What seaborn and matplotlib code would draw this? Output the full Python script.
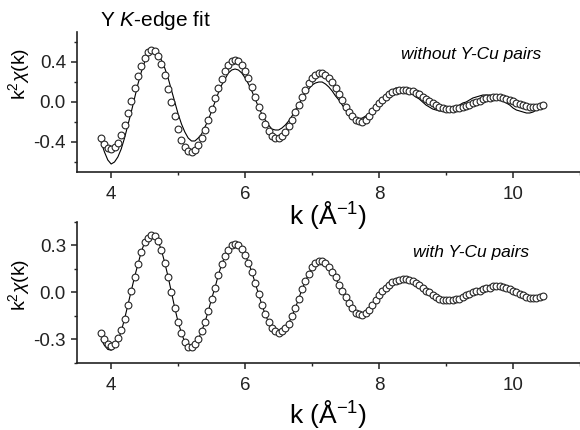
import numpy as np
import matplotlib
matplotlib.use("Agg")
import matplotlib.pyplot as plt
from matplotlib.ticker import MultipleLocator
import seaborn as sns

# ---- data ----
k = np.round(np.arange(3.85, 10.451, 0.05), 2)

exp_top = [
    -0.36, -0.42, -0.46, -0.47, -0.45, -0.41, -0.33, -0.23, -0.11, 0.01,
    0.14, 0.26, 0.36, 0.44, 0.50, 0.52, 0.51, 0.46, 0.38, 0.27,
    0.13, 0.00, -0.14, -0.27, -0.38, -0.45, -0.49, -0.50, -0.48, -0.43,
    -0.36, -0.28, -0.18, -0.07, 0.04, 0.14, 0.23, 0.31, 0.37, 0.41,
    0.42, 0.41, 0.37, 0.31, 0.24, 0.15, 0.05, -0.05, -0.14, -0.22,
    -0.29, -0.34, -0.36, -0.36, -0.34, -0.30, -0.24, -0.18, -0.10, -0.03,
    0.05, 0.12, 0.19, 0.24, 0.27, 0.29, 0.29, 0.27, 0.24, 0.20,
    0.14, 0.08, 0.02, -0.05, -0.10, -0.14, -0.18, -0.19, -0.20, -0.18,
    -0.14, -0.09, -0.05, -0.01, 0.02, 0.05, 0.08, 0.10, 0.11, 0.12,
    0.12, 0.12, 0.11, 0.11, 0.09, 0.08, 0.05, 0.03, 0.01, -0.01,
    -0.03, -0.05, -0.06, -0.07, -0.07, -0.07, -0.06, -0.06, -0.05, -0.04,
    -0.03, -0.01, 0.00, 0.01, 0.03, 0.04, 0.04, 0.05, 0.05, 0.05,
    0.04, 0.03, 0.02, 0.01, -0.01, -0.02, -0.03, -0.04, -0.05, -0.05,
    -0.05, -0.04, -0.03,
]

fit_top = [
    -0.40, -0.50, -0.58, -0.62, -0.60, -0.55, -0.47, -0.36, -0.23, -0.10,
    0.04, 0.18, 0.30, 0.40, 0.46, 0.50, 0.51, 0.48, 0.42, 0.34,
    0.24, 0.12, 0.00, -0.12, -0.22, -0.30, -0.36, -0.39, -0.39, -0.36,
    -0.32, -0.25, -0.18, -0.09, 0.00, 0.09, 0.17, 0.23, 0.29, 0.32,
    0.33, 0.32, 0.29, 0.24, 0.18, 0.11, 0.03, -0.05, -0.12, -0.18,
    -0.23, -0.27, -0.28, -0.28, -0.26, -0.23, -0.19, -0.14, -0.08, -0.02,
    0.03, 0.09, 0.13, 0.17, 0.19, 0.20, 0.20, 0.18, 0.15, 0.11,
    0.06, 0.02, -0.03, -0.08, -0.12, -0.15, -0.17, -0.17, -0.16, -0.14,
    -0.12, -0.08, -0.05, -0.01, 0.03, 0.07, 0.10, 0.12, 0.14, 0.14,
    0.13, 0.12, 0.10, 0.08, 0.05, 0.03, 0.00, -0.03, -0.05, -0.07,
    -0.08, -0.09, -0.09, -0.08, -0.07, -0.06, -0.05, -0.03, -0.01, 0.00,
    0.02, 0.04, 0.05, 0.06, 0.07, 0.07, 0.07, 0.06, 0.05, 0.03,
    0.01, -0.01, -0.03, -0.06, -0.08, -0.09, -0.10, -0.11, -0.11, -0.10,
    -0.08, -0.06, -0.04,
]

exp_bot = [
    -0.26, -0.30, -0.33, -0.34, -0.33, -0.29, -0.24, -0.17, -0.08, 0.01,
    0.10, 0.18, 0.26, 0.32, 0.35, 0.37, 0.36, 0.33, 0.27, 0.19,
    0.10, 0.00, -0.10, -0.19, -0.26, -0.32, -0.35, -0.35, -0.33, -0.30,
    -0.25, -0.19, -0.12, -0.04, 0.03, 0.11, 0.18, 0.23, 0.27, 0.30,
    0.31, 0.30, 0.28, 0.24, 0.19, 0.13, 0.06, -0.01, -0.08, -0.14,
    -0.19, -0.23, -0.25, -0.26, -0.25, -0.23, -0.20, -0.15, -0.10, -0.04,
    0.02, 0.07, 0.12, 0.16, 0.19, 0.20, 0.20, 0.19, 0.16, 0.13,
    0.10, 0.05, 0.01, -0.03, -0.07, -0.10, -0.13, -0.14, -0.145, -0.13,
    -0.11, -0.08, -0.05, -0.02, 0.01, 0.03, 0.05, 0.065, 0.075, 0.08,
    0.085, 0.085, 0.08, 0.07, 0.06, 0.05, 0.03, 0.01, 0.00, -0.02,
    -0.03, -0.04, -0.05, -0.05, -0.05, -0.05, -0.04, -0.04, -0.03, -0.02,
    -0.01, 0.00, 0.01, 0.01, 0.02, 0.03, 0.03, 0.04, 0.04, 0.04,
    0.035, 0.03, 0.02, 0.01, 0.00, -0.01, -0.02, -0.03, -0.035, -0.035,
    -0.035, -0.03, -0.025,
]

fit_bot = [
    -0.30, -0.34, -0.365, -0.37, -0.355, -0.31, -0.25, -0.17, -0.08, 0.01,
    0.10, 0.18, 0.26, 0.32, 0.35, 0.365, 0.36, 0.33, 0.27, 0.19,
    0.10, 0.00, -0.10, -0.19, -0.26, -0.32, -0.345, -0.35, -0.33, -0.30,
    -0.25, -0.19, -0.12, -0.04, 0.03, 0.11, 0.18, 0.23, 0.27, 0.30,
    0.31, 0.30, 0.28, 0.24, 0.19, 0.13, 0.06, -0.01, -0.08, -0.14,
    -0.19, -0.23, -0.25, -0.26, -0.25, -0.23, -0.20, -0.15, -0.10, -0.04,
    0.02, 0.07, 0.12, 0.16, 0.19, 0.20, 0.20, 0.19, 0.16, 0.13,
    0.09, 0.05, 0.01, -0.03, -0.07, -0.11, -0.13, -0.15, -0.15, -0.13,
    -0.11, -0.08, -0.05, -0.02, 0.01, 0.03, 0.05, 0.07, 0.08, 0.085,
    0.09, 0.085, 0.08, 0.07, 0.06, 0.04, 0.02, 0.00, -0.02, -0.035,
    -0.045, -0.055, -0.06, -0.06, -0.055, -0.05, -0.045, -0.035, -0.025, -0.015,
    -0.005, 0.005, 0.015, 0.025, 0.035, 0.04, 0.045, 0.05, 0.05, 0.045,
    0.04, 0.03, 0.02, 0.01, -0.005, -0.015, -0.025, -0.03, -0.035, -0.035,
    -0.035, -0.03, -0.025,
]

title_text = r"Y $K$-edge fit"
labels = ["without Y-Cu pairs", "with Y-Cu pairs"]
xlabel = r"k (Å$^{-1}$)"
ylabel = r"k$^{2}\chi$(k)"

# ---- style ----
sns.set_theme(style="ticks")
plt.rcParams["font.family"] = ["Liberation Sans", "DejaVu Sans"]
plt.rcParams["mathtext.fontset"] = "custom"
plt.rcParams["mathtext.rm"] = "Liberation Sans"
plt.rcParams["mathtext.it"] = "Liberation Sans:italic"
plt.rcParams["mathtext.bf"] = "Liberation Sans:bold"

fig = plt.figure(figsize=(5.8, 4.3), dpi=100)
W, H = 580, 430
ax1 = fig.add_axes([77 / W, 1 - 172 / H, (W - 77) / W, 140 / H])
ax2 = fig.add_axes([77 / W, 1 - 362.7 / H, (W - 77) / W, 140.7 / H])

# (axes, data, fit, ylim, major, minor, label, label y, xlabel pad, ylabel y)
panels = [
    (ax1, exp_top, fit_top, (-0.70, 0.70), 0.4, 0.2, labels[0], 0.836, -2.5, 0.70),
    (ax2, exp_bot, fit_bot, (-0.45, 0.45), 0.3, 0.15, labels[1], 0.78, 3.5, 0.55),
]

for ax, ex, ft, ylim, maj, mnr, lab, ly, xpad, yly in panels:
    sns.lineplot(x=k, y=ft, ax=ax, color="black", linewidth=0.8, zorder=2)
    sns.scatterplot(x=k, y=ex, ax=ax, marker="o", s=24, facecolor="white",
                    edgecolor="#262626", linewidth=0.8, zorder=3)
    ax.set_xlim(3.49, 11.0)
    ax.set_ylim(*ylim)
    ax.xaxis.set_major_locator(MultipleLocator(2))
    ax.xaxis.set_minor_locator(MultipleLocator(1))
    ax.yaxis.set_major_locator(MultipleLocator(maj))
    ax.yaxis.set_minor_locator(MultipleLocator(mnr))
    ax.yaxis.set_major_formatter(plt.FuncFormatter(lambda v, p: f"{v:.1f}"))
    for s in ["top", "right"]:
        ax.spines[s].set_visible(False)
    for s in ["left", "bottom"]:
        ax.spines[s].set_linewidth(1.2)
        ax.spines[s].set_color("#222222")
    ax.tick_params(which="major", direction="out", length=4, width=1.1,
                   labelsize=13.5, colors="#222222")
    ax.tick_params(axis="x", which="major", pad=6)
    ax.tick_params(axis="y", which="major", pad=4)
    ax.tick_params(which="minor", direction="out", length=2.5, width=1.0,
                   colors="#222222")
    ax.set_xlabel(xlabel, fontsize=19, labelpad=xpad, color="black")
    ax.set_ylabel(ylabel, fontsize=14, color="black")
    ax.yaxis.set_label_coords(-0.089, yly)
    ax.text(0.783, ly, lab, transform=ax.transAxes, fontsize=12.5,
            style="italic", ha="center", va="center", color="black")
    ax.patch.set_alpha(0)

fig.text(100 / W, 1 - 20 / H, title_text, fontsize=15, ha="left",
         va="center", color="black")

fig.savefig("out.png", dpi=100, facecolor="white")
